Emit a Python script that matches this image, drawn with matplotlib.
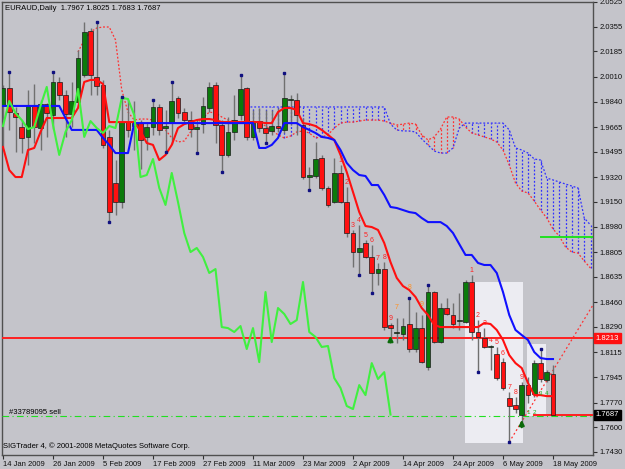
import matplotlib
matplotlib.use('Agg')
import matplotlib.pyplot as plt
from matplotlib.patches import Rectangle

plt.rcParams['font.family'] = ['Liberation Sans', 'DejaVu Sans']

# ---------------- data ----------------
date_labels = ['14 Jan 2009', '26 Jan 2009', '5 Feb 2009', '17 Feb 2009', '27 Feb 2009',
               '11 Mar 2009', '23 Mar 2009', '2 Apr 2009', '14 Apr 2009', '24 Apr 2009',
               '6 May 2009', '18 May 2009']
label_bars = [0, 8, 16, 24, 32, 40, 48, 56, 64, 72, 80, 88]

opens = [1.9817, 1.9934, 1.9761, 1.9665, 1.9597, 1.9810, 1.9658, 1.9823, 1.9748, 1.9975,
         1.9886, 1.9754, 1.9837, 2.0023, 2.0326, 2.0009, 1.9955, 1.9597, 1.9280, 1.9149,
         1.9699, 1.9672, 1.9692, 1.9597, 1.9665, 1.9803, 1.9658, 1.9692, 1.9865, 1.9768,
         1.9713, 1.9651, 1.9685, 1.9796, 1.9955, 1.9679, 1.9473, 1.9631, 1.9748, 1.9934,
         1.9597, 1.9706, 1.9658, 1.9638, 1.9672, 1.9645, 1.9851, 1.9851, 1.9679, 1.9321,
         1.9328, 1.9452, 1.9246, 1.9149, 1.9349, 1.9149, 1.8936, 1.8805, 1.8867, 1.8771,
         1.8661, 1.8688, 1.8303, 1.8248, 1.8241, 1.8310, 1.8138, 1.8282, 1.8014, 1.8530,
         1.8186, 1.8420, 1.8372, 1.8330, 1.8323, 1.8599, 1.8255, 1.8214, 1.8152, 1.8103,
         1.8048, 1.7801, 1.7753, 1.7684, 1.7890, 1.7828, 1.8041, 1.7925, 1.7967]
highs = [1.9955, 2.0043, 1.9803, 1.9713, 1.9920, 1.9961, 1.9851, 1.9830, 2.0043, 2.0009,
         1.9920, 1.9975, 2.0195, 2.0387, 2.0346, 2.0387, 1.9989, 1.9645, 1.9438, 1.9872,
         1.9851, 1.9844, 1.9713, 1.9699, 1.9851, 1.9823, 1.9782, 1.9975, 1.9879, 1.9796,
         1.9775, 1.9713, 1.9872, 1.9975, 1.9975, 1.9713, 1.9734, 1.9886, 2.0023, 1.9941,
         1.9782, 1.9796, 1.9782, 1.9782, 1.9796, 2.0036, 1.9886, 1.9899, 1.9727, 1.9390,
         1.9562, 1.9473, 1.9259, 1.9452, 1.9404, 1.9252, 1.8957, 1.8991, 1.8888, 1.8854,
         1.8730, 1.8736, 1.8317, 1.8351, 1.8351, 1.8489, 1.8392, 1.8372, 1.8578, 1.8537,
         1.8454, 1.8489, 1.8454, 1.8523, 1.8613, 1.8647, 1.8337, 1.8282, 1.8165, 1.8152,
         1.8076, 1.7842, 1.7808, 1.7911, 1.7945, 1.8062, 1.8138, 1.7993, 1.8025]
lows = [1.9528, 1.9645, 1.9493, 1.9486, 1.9404, 1.9555, 1.9507, 1.9597, 1.9651, 1.9851,
        1.9597, 1.9665, 1.9830, 2.0009, 1.9886, 1.9886, 1.9521, 1.9011, 1.9060, 1.9108,
        1.9597, 1.9507, 1.9376, 1.9507, 1.9611, 1.9611, 1.9493, 1.9548, 1.9727, 1.9699,
        1.9597, 1.9486, 1.9624, 1.9768, 1.9555, 1.9355, 1.9459, 1.9576, 1.9713, 1.9576,
        1.9576, 1.9631, 1.9555, 1.9611, 1.9631, 1.9624, 1.9679, 1.9611, 1.9307, 1.9232,
        1.9314, 1.9232, 1.9115, 1.9142, 1.9142, 1.8909, 1.8702, 1.8647, 1.8764, 1.8523,
        1.8578, 1.8269, 1.8200, 1.8179, 1.8200, 1.8117, 1.8117, 1.8041, 1.7993, 1.8179,
        1.8179, 1.8372, 1.8282, 1.8269, 1.8316, 1.8200, 1.7979, 1.8145, 1.7993, 1.7925,
        1.7856, 1.7498, 1.7697, 1.7615, 1.7766, 1.7808, 1.7911, 1.7911, 1.7683]
closes = [1.9934, 1.9768, 1.9734, 1.9590, 1.9810, 1.9665, 1.9823, 1.9761, 1.9975, 1.9886,
          1.9754, 1.9844, 2.0140, 2.0319, 2.0023, 1.9948, 1.9542, 1.9080, 1.9149, 1.9699,
          1.9645, 1.9692, 1.9576, 1.9665, 1.9803, 1.9645, 1.9672, 1.9844, 1.9761, 1.9713,
          1.9651, 1.9665, 1.9810, 1.9941, 1.9679, 1.9473, 1.9631, 1.9713, 1.9927, 1.9597,
          1.9706, 1.9658, 1.9624, 1.9672, 1.9658, 1.9865, 1.9858, 1.9748, 1.9321, 1.9335,
          1.9445, 1.9246, 1.9129, 1.9349, 1.9149, 1.8936, 1.8805, 1.8833, 1.8771, 1.8661,
          1.8688, 1.8289, 1.8282, 1.8255, 1.8296, 1.8138, 1.8282, 1.8048, 1.8530, 1.8186,
          1.8420, 1.8379, 1.8310, 1.8337, 1.8599, 1.8255, 1.8221, 1.8152, 1.8159, 1.7938,
          1.7870, 1.7746, 1.7725, 1.7890, 1.7821, 1.8041, 1.7932, 1.7979, 1.7687]

tenkan = [1.9528, 1.9369, 1.9321, 1.9321, 1.9507, 1.9521, 1.9631, 1.9727, 1.9727, 1.9727,
          1.9727, 1.9727, 1.9796, 1.9975, 1.9989, 1.9989, 1.9961, 1.9699, 1.9699, 1.9699,
          1.9699, 1.9699, 1.9638, 1.9555, 1.9542, 1.9438, 1.9473, 1.9542, 1.9658, 1.9685,
          1.9699, 1.9713, 1.9720, 1.9720, 1.9713, 1.9699, 1.9699, 1.9699, 1.9699, 1.9699,
          1.9699, 1.9699, 1.9692, 1.9692, 1.9768, 1.9796, 1.9796, 1.9782, 1.9692, 1.9685,
          1.9672, 1.9645, 1.9611, 1.9576, 1.9473, 1.9355, 1.9218, 1.9080, 1.8984, 1.8977,
          1.8957, 1.8867, 1.8736, 1.8627, 1.8571, 1.8544, 1.8496, 1.8420, 1.8372, 1.8303,
          1.8289, 1.8289, 1.8289, 1.8289, 1.8289, 1.8289, 1.8289, 1.8317, 1.8310, 1.8269,
          1.8200, 1.8096, 1.8041, 1.8007, 1.7904, 1.7821, 1.7821, 1.7814, 1.7814]
kijun = [1.9810, 1.9810, 1.9810, 1.9810, 1.9810, 1.9810, 1.9810, 1.9810, 1.9810, 1.9810,
         1.9727, 1.9645, 1.9645, 1.9645, 1.9645, 1.9645, 1.9590, 1.9542, 1.9486, 1.9486,
         1.9486, 1.9692, 1.9692, 1.9692, 1.9692, 1.9692, 1.9692, 1.9692, 1.9692, 1.9692,
         1.9692, 1.9692, 1.9692, 1.9692, 1.9692, 1.9692, 1.9692, 1.9692, 1.9692, 1.9692,
         1.9692, 1.9521, 1.9521, 1.9542, 1.9590, 1.9692, 1.9692, 1.9692, 1.9665, 1.9645,
         1.9624, 1.9597, 1.9590, 1.9576, 1.9507, 1.9418, 1.9369, 1.9335, 1.9328, 1.9266,
         1.9266, 1.9198, 1.9115, 1.9108, 1.9094, 1.9080, 1.9073, 1.9039, 1.9011, 1.9011,
         1.9011, 1.8984, 1.8936, 1.8860, 1.8785, 1.8785, 1.8730, 1.8716, 1.8716, 1.8661,
         1.8530, 1.8372, 1.8269, 1.8234, 1.8200, 1.8117, 1.8076, 1.8069, 1.8069]

span_a_start = 12
span_a = [2.0181, 2.0264, 2.0319, 2.0346, 2.0353, 2.0353, 2.0264, 1.9920, 1.9768, 1.9713,
          1.9720, 1.9720, 1.9713, 1.9679, 1.9645, 1.9590, 1.9562, 1.9569, 1.9631, 1.9692,
          1.9727, 1.9768, 1.9761, 1.9734, 1.9713, 1.9706, 1.9699, 1.9699, 1.9699, 1.9699,
          1.9672, 1.9645, 1.9611, 1.9590, 1.9603, 1.9631, 1.9638, 1.9624, 1.9590, 1.9597,
          1.9611, 1.9658, 1.9692, 1.9699, 1.9699, 1.9706, 1.9713, 1.9713, 1.9713, 1.9706,
          1.9692, 1.9679, 1.9685, 1.9692, 1.9685, 1.9611, 1.9576, 1.9597, 1.9651, 1.9734,
          1.9734, 1.9720, 1.9665, 1.9624, 1.9611, 1.9597, 1.9583, 1.9562, 1.9507, 1.9404,
          1.9280, 1.9225, 1.9211, 1.9156, 1.9094, 1.9039, 1.8964, 1.8915, 1.8840, 1.8805,
          1.8798, 1.8743, 1.8695]
span_b_start = 39
span_b = [1.9803, 1.9803, 1.9803, 1.9803, 1.9803, 1.9803, 1.9803, 1.9803, 1.9803, 1.9803,
          1.9803, 1.9803, 1.9803, 1.9803, 1.9803, 1.9803, 1.9803, 1.9803, 1.9803, 1.9803,
          1.9803, 1.9803, 1.9803, 1.9685, 1.9645, 1.9638, 1.9638, 1.9631, 1.9583, 1.9542,
          1.9500, 1.9486, 1.9486, 1.9521, 1.9658, 1.9692, 1.9692, 1.9692, 1.9692, 1.9692,
          1.9692, 1.9692, 1.9645, 1.9521, 1.9507, 1.9486, 1.9445, 1.9438, 1.9314, 1.9301,
          1.9287, 1.9273, 1.9259, 1.9246, 1.9039, 1.8991]
chikou_shift = 26

y_ticks = [2.0525, 2.0355, 2.0185, 2.0010, 1.9840, 1.9665, 1.9495, 1.9320, 1.9150, 1.8980,
           1.8805, 1.8635, 1.8460, 1.8290, 1.8115, 1.7945, 1.7770, 1.7600, 1.7430]

hline_price = 1.8213
last_close = 1.7687
order_price = 1.7680
order_label = '#33789095 sell'
green_level = 1.8909
green_level_from = 86
trend_bars = [81, 94.4]
trend_prices = [1.7498, 1.8441]
boxes = [(73.9, 83.2, 1.7491, 1.8599), (83.8, 86.9, 1.7677, 1.8172)]
close_line_from = 85

fractal_high_bars = [1, 8, 15, 19, 24, 27, 38, 45, 65, 68, 86]
fractal_low_bars = [17, 26, 31, 35, 42, 49, 57, 59, 76, 81]

td_red1_bars = [54, 55, 56, 57, 58, 59, 60, 61, 62]
td_red2_bars = [75, 76, 77, 78, 79, 80, 81, 82, 83]
td_orange_bars = [63, 65, 67]
td_orange_txt = ['7', '8', '9']
td_green_bars = [84, 85, 86, 87]
td_green_prices = [1.7704, 1.7704, 1.7835, 1.7835]
arrow_bars = [62, 83]
arrow_tips = [1.8248, 1.7670]
arrow_tails = [1.8165, 1.7581]

title = 'EURAUD,Daily  1.7967 1.8025 1.7683 1.7687'
footer = 'SIGTrader 4, \u00a9 2001-2008 MetaQuotes Software Corp.'

# ---------------- drawing ----------------
BG = '#C4C4CA'
fig = plt.figure(figsize=(6.25, 4.69), dpi=100)
fig.patch.set_facecolor(BG)
ax = fig.add_axes([2 / 625, 14 / 469, 591 / 625, 453 / 469])
ax.set_facecolor(BG)
ax.set_xlim(-0.16, 94.4)
ax.set_ylim(1.7409, 2.0525)

# rectangles (objects)
for x0, x1, y0, y1 in boxes:
    ax.add_patch(Rectangle((x0, y0), x1 - x0, y1 - y0, facecolor='#ECECF2',
                           edgecolor='none', zorder=1))

# cloud hatch
for i, b in enumerate(span_b):
    bar = span_b_start + i
    a = span_a[bar - span_a_start]
    col = '#3030FF' if b > a else '#FF3030'
    ax.plot([bar, bar], [a, b], color=col, lw=0.9, ls=(0, (1.5, 1.5)), zorder=2)
ax.plot(range(span_a_start, span_a_start + len(span_a)), span_a, color='#FF3030',
        lw=0.9, ls=(0, (1.5, 1.5)), zorder=2)
ax.plot(range(span_b_start, span_b_start + len(span_b)), span_b, color='#3030FF',
        lw=0.9, ls=(0, (1.5, 1.5)), zorder=2)

# horizontal lines
ax.axhline(hline_price, color='#FF2020', lw=1.4, zorder=3)
ax.axhline(order_price, color='#20E020', lw=0.8, ls=(0, (6, 3, 1, 3)), zorder=3)
ax.plot([close_line_from, 94.4], [last_close, last_close], color='#FF2020', lw=1.4, zorder=3)
ax.plot([green_level_from, 94.4], [green_level, green_level], color='#20E020', lw=1.4, zorder=3)
ax.plot(trend_bars, trend_prices, color='#FF3030', lw=0.9, ls=(0, (1.5, 2)), zorder=3)

# candles
n = len(opens)
bars = list(range(n))
for i in bars:
    o, h, l, c = opens[i], highs[i], lows[i], closes[i]
    ax.plot([i, i], [l, h], color='#707070', lw=1.0, zorder=4, solid_capstyle='butt')
    up = c >= o
    fc = '#0B7A0B' if up else '#FF1010'
    lo, hi = min(o, c), max(o, c)
    hgt = max(hi - lo, 0.0004)
    ax.add_patch(Rectangle((i - 0.38, lo), 0.76, hgt, facecolor=fc, edgecolor='#1A1A1A',
                           lw=0.5, zorder=5))

# indicator lines
ax.plot(bars, tenkan, color='#FF1010', lw=1.5, zorder=6)
ax.plot(bars, kijun, color='#1010FF', lw=1.5, zorder=6)
ax.plot(bars[:n - chikou_shift], closes[chikou_shift:], color='#40F040', lw=1.5, zorder=6)

# fractal dots
ax.plot(fractal_high_bars, [highs[b] for b in fractal_high_bars], 's', color='#101080',
        ms=1.6, zorder=7)
ax.plot(fractal_low_bars, [lows[b] for b in fractal_low_bars], 's', color='#101080',
        ms=1.6, zorder=7)

# TD counts
for k, b in enumerate(td_red1_bars):
    ax.annotate(str(k + 1), (b, highs[b]), xytext=(0, 1), textcoords='offset points',
                ha='center', va='bottom', fontsize=5, color='#FF2020', zorder=8)
for k, b in enumerate(td_red2_bars):
    ax.annotate(str(k + 1), (b, highs[b]), xytext=(0, 1), textcoords='offset points',
                ha='center', va='bottom', fontsize=5, color='#FF2020', zorder=8)
for b, t in zip(td_orange_bars, td_orange_txt):
    ax.annotate(t, (b, highs[b]), xytext=(0, 5), textcoords='offset points',
                ha='center', va='bottom', fontsize=5, color='#FF9020', zorder=8)
for k, (b, p) in enumerate(zip(td_green_bars, td_green_prices)):
    ax.text(b, p, str(k + 1), ha='center', va='center', fontsize=4.5, color='#20B020', zorder=8)

# arrows
for b, tip, tail in zip(arrow_bars, arrow_tips, arrow_tails):
    ax.annotate('', xy=(b, tip), xytext=(b, tail),
                arrowprops=dict(arrowstyle='-|>', color='#0A6A0A', lw=1.6, mutation_scale=7),
                zorder=8)

# axes styling
for s in ax.spines.values():
    s.set_color('#505050')
    s.set_linewidth(1.0)
ax.yaxis.tick_right()
ax.set_yticks(y_ticks)
ax.set_yticklabels(['%.4f' % v for v in y_ticks])
ax.tick_params(axis='y', direction='out', length=3, width=0.8, color='#303030',
               labelsize=5.5, pad=2, labelcolor='#101010')
ax.set_xticks(label_bars)
ax.set_xticklabels(date_labels)
for lbl in ax.get_xticklabels():
    lbl.set_ha('left')
ax.tick_params(axis='x', direction='out', length=3, width=0.8, color='#303030',
               labelsize=5.5, pad=1, labelcolor='#101010')

# price boxes
for price, col in [(hline_price, '#FF1010'), (last_close, '#000000')]:
    ax.annotate('%.4f' % price, xy=(1.0, price), xycoords=('axes fraction', 'data'),
                xytext=(2, 0), textcoords='offset points', ha='left', va='center',
                fontsize=5.5, color='white', annotation_clip=False,
                bbox=dict(boxstyle='square,pad=0.2', fc=col, ec=col), zorder=9)

# texts
fig.text(5 / 625, 1 - 8 / 469, title, ha='left', va='center', fontsize=5.5, color='#000000')
fig.text(3 / 625, 1 - 446 / 469, footer, ha='left', va='center', fontsize=5.5, color='#000000')
ax.text(1.0, order_price, order_label, ha='left', va='bottom', fontsize=5.5,
        color='#000000', zorder=8)

fig.savefig('out.png', dpi=100, facecolor=BG)
